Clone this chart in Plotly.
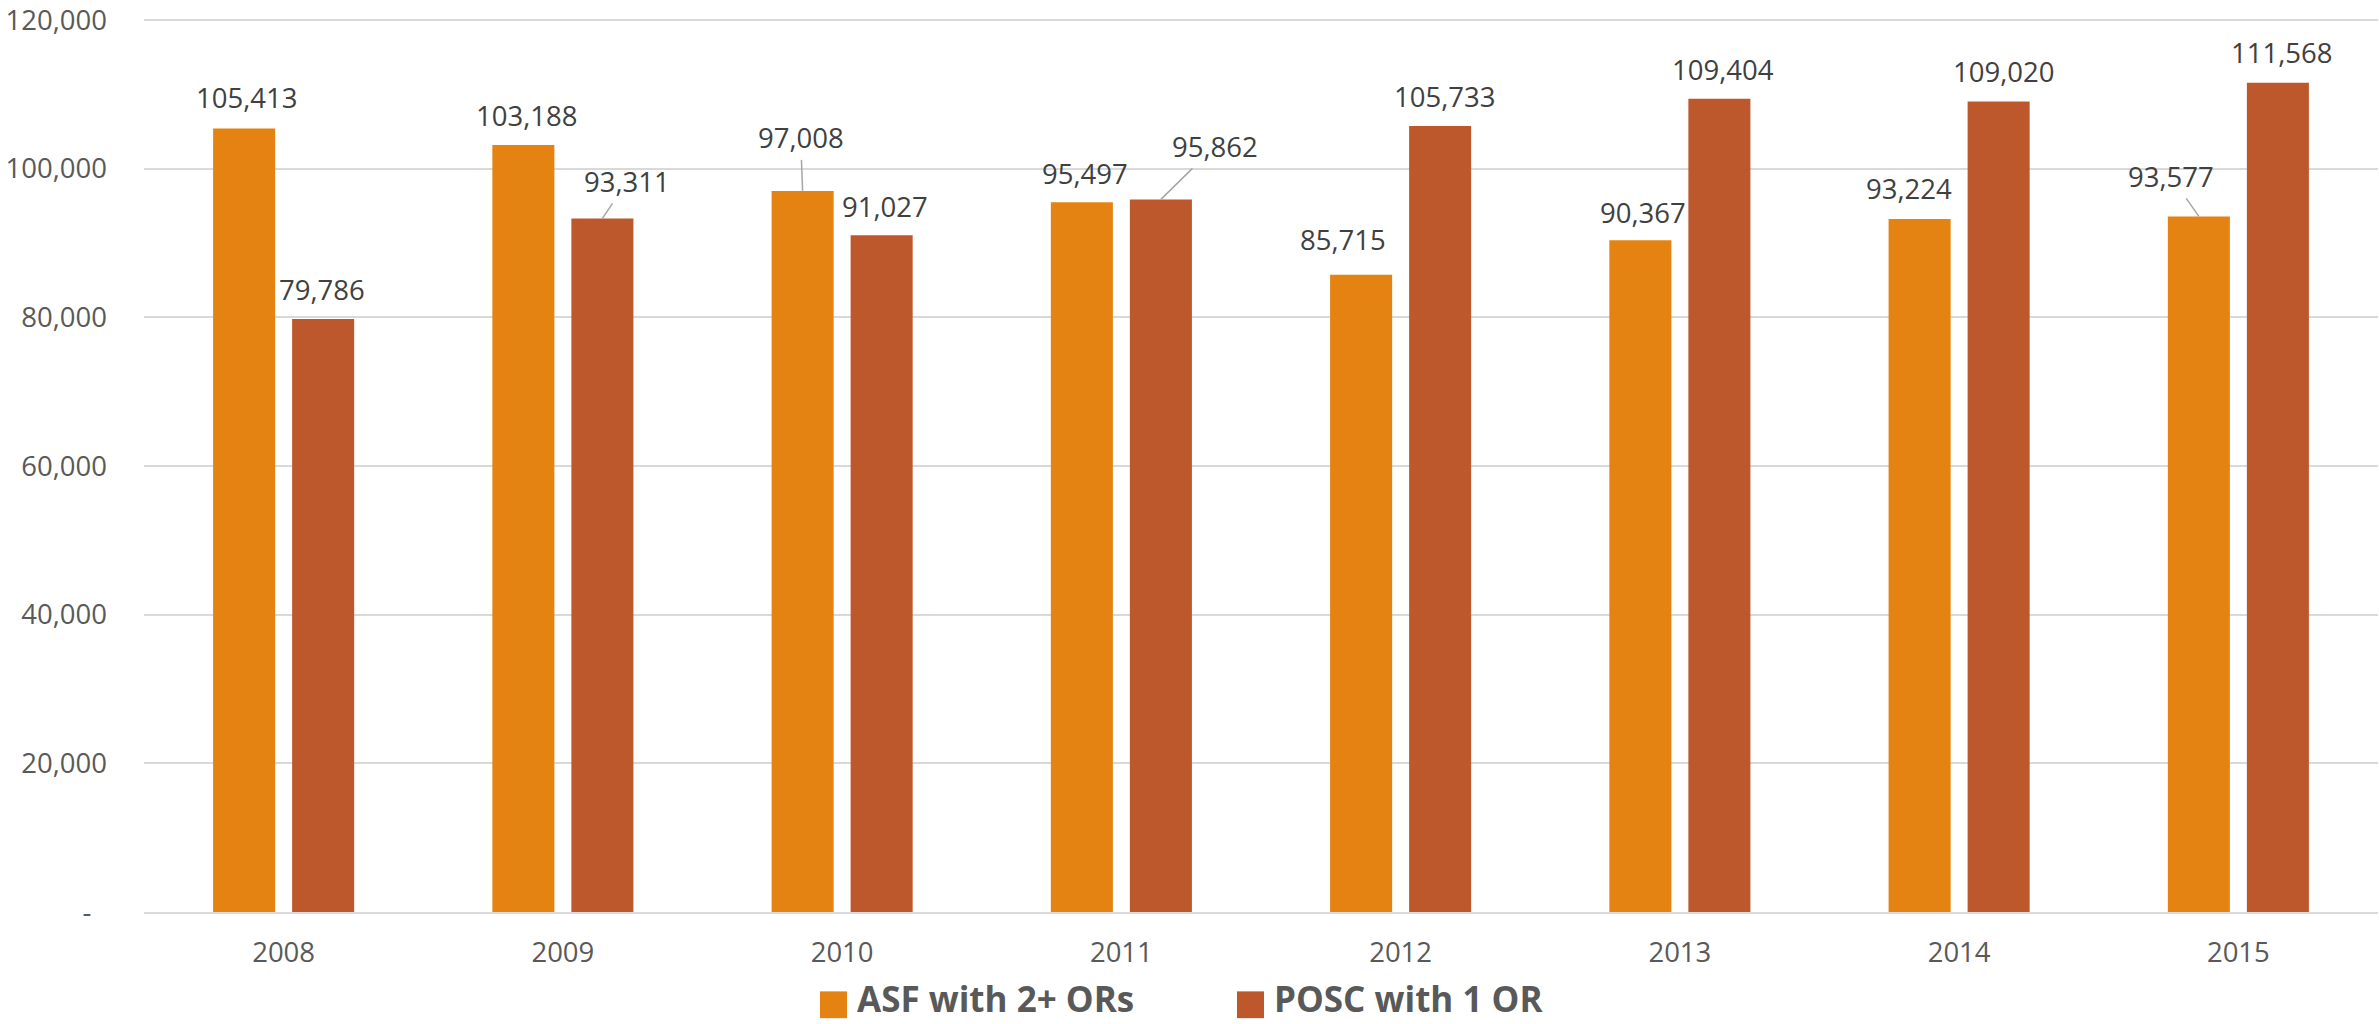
import plotly.graph_objects as go

years = ["2008", "2009", "2010", "2011", "2012", "2013", "2014", "2015"]
asf_values = [105413, 103188, 97008, 95497, 85715, 90367, 93224, 93577]
posc_values = [79786, 93311, 91027, 95862, 105733, 109404, 109020, 111568]
series_names = ["ASF with 2+ ORs", "POSC with 1 OR"]
y_tick_values = [0, 20000, 40000, 60000, 80000, 100000, 120000]
y_tick_labels = ["-\u2007", "20,000", "40,000", "60,000", "80,000", "100,000", "120,000"]

# label nudges (pixels): horizontal shift, height of label centre above bar top, leader line?
asf_label_dx = [2, 3, -2, 3, -18, 3, -11, -28]
asf_label_dy = [31, 29, 53, 29, 35, 28, 31, 40]
asf_leader = [False, False, True, False, False, False, False, True]
posc_label_dx = [-1, 25, 3, 54, 4, 4, 5, 4]
posc_label_dy = [29, 37, 29, 53, 30, 29, 30, 30]
posc_leader = [False, True, False, True, False, False, False, False]

colors = ["#E48312", "#BD582C"]
W, H = 2379, 1024
M = dict(l=144, r=1, t=11, b=112)
BARGAP = 0.434
BARGROUPGAP = 0.215
FONT = "Open Sans"

plot_w = W - M["l"] - M["r"]
plot_h = H - M["t"] - M["b"]
# keep a little headroom so the top gridline (120,000) sits 2px inside the plot area
y_top = y_tick_values[-1] * plot_h / (plot_h - 2)

fig = go.Figure()
for name, vals, col in zip(series_names, [asf_values, posc_values], colors):
    fig.add_trace(go.Bar(x=years, y=vals, name=name, marker=dict(color=col, line=dict(width=0)),
                         showlegend=False))

offset = (1 - BARGAP) / 4  # half slot, in category units
annotations = []
for s, (vals, dxs, dys, leads) in enumerate([(asf_values, asf_label_dx, asf_label_dy, asf_leader),
                                              (posc_values, posc_label_dx, posc_label_dy, posc_leader)]):
    sign = -1 if s == 0 else 1
    for i, v in enumerate(vals):
        txt = f"{v:,}"
        base = dict(x=i + sign * offset, y=v, xref="x", yref="y", text=txt,
                    font=dict(family=FONT, size=27.5, color="#404040"),
                    xanchor="center", yanchor="middle")
        if leads[i]:
            base.update(showarrow=True, arrowhead=0, arrowwidth=1.5, arrowcolor="#A6A6A6",
                        ax=dxs[i], ay=-dys[i], standoff=0, borderpad=3)
        else:
            base.update(showarrow=False, xshift=dxs[i], yshift=dys[i])
        annotations.append(base)

# manual legend (large square swatches)
def px_x(p):
    return (p - M["l"]) / plot_w
def px_y(p):
    return (H - M["b"] - p) / plot_h

legend_swatch_x = [820, 1237]
shapes = []
for sx, col, name in zip(legend_swatch_x, colors, series_names):
    shapes.append(dict(type="rect", xref="paper", yref="paper",
                       x0=px_x(sx), x1=px_x(sx + 27), y0=px_y(1019), y1=px_y(992),
                       fillcolor=col, line=dict(width=0)))
    annotations.append(dict(xref="paper", yref="paper", x=px_x(sx + 36), y=px_y(1024),
                            text=name, showarrow=False, xanchor="left", yanchor="bottom",
                            borderpad=0,
                            font=dict(family=FONT, size=35, color="#595959", weight="bold")))

fig.update_layout(
    width=W, height=H,
    margin=M,
    paper_bgcolor="white", plot_bgcolor="white",
    barmode="group", bargap=BARGAP, bargroupgap=BARGROUPGAP,
    annotations=annotations, shapes=shapes,
    showlegend=False,
    font=dict(family=FONT, size=27.5, color="#595959"),
    xaxis=dict(type="category", showgrid=False, showline=True, linecolor="#D9D9D9", linewidth=2,
               ticks="", ticklabelstandoff=15,
               tickfont=dict(family=FONT, size=27.5, color="#595959")),
    yaxis=dict(range=[0, y_top], tickvals=y_tick_values, ticktext=y_tick_labels,
               showgrid=True, gridcolor="#D9D9D9", gridwidth=1.5, zeroline=False, showline=False,
               ticks="", ticklabelstandoff=36, ticklabeloverflow="allow",
               tickfont=dict(family=FONT, size=27.5, color="#595959")),
)

fig.write_html("out.html", config={"displayModeBar": False})
with open("out.html", "r", encoding="utf-8") as f:
    html = f.read()
html = html.replace("<head>", "<head><style>html,body{margin:0;padding:0;overflow:hidden;}</style>", 1)
with open("out.html", "w", encoding="utf-8") as f:
    f.write(html)
